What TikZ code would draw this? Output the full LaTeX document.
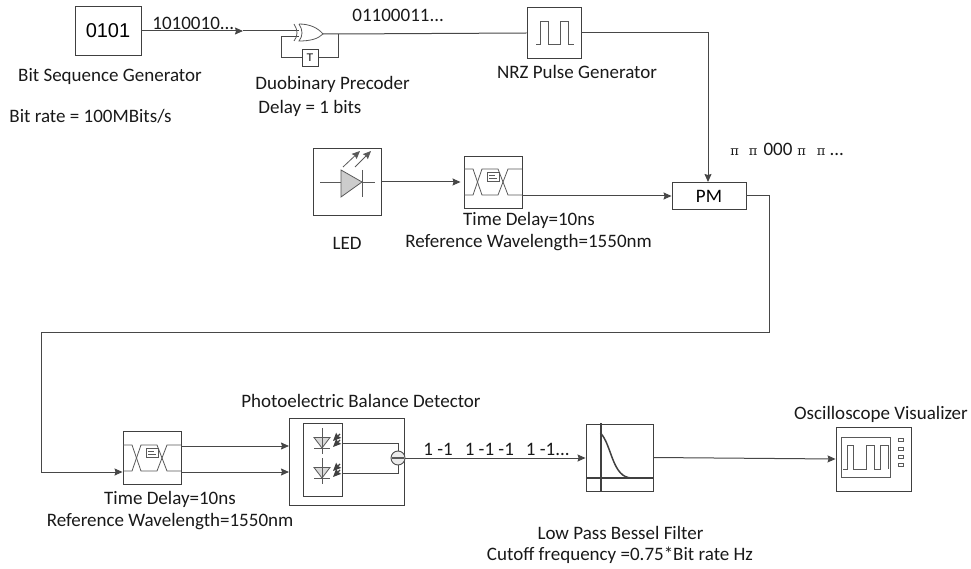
\documentclass[tikz,border=0pt]{standalone}
\usepackage{fontspec}
\setmainfont{Carlito}
\newfontfamily\boxfont{Liberation Sans}
\newfontfamily\pifont{DejaVu Serif}
\newcommand{\pisym}{{\pifont\fontsize{13}{15}\selectfont π}}
\usetikzlibrary{arrows.meta,positioning}
\tikzset{
  unit/.style={draw=black!75,minimum width=#1,inner sep=0pt},
  label/.style={inner sep=0pt,font=\fontsize{19}{22}\selectfont,text=black!90},
  wire/.style={draw=black!72,line width=1pt},
  icon/.style={draw=black!65,line width=0.8pt},
}
\begin{document}
\begin{tikzpicture}[x=1pt,y=-1pt,>={Stealth[length=8pt,width=7pt,inset=1pt]},line width=0.9pt]
\useasboundingbox (0,0) rectangle (971,569);

% top row
\node[unit=66pt,minimum height=49pt,font=\boxfont\fontsize{20}{22}\selectfont] (bitgen) at (108,31) {0101};
\node[unit=54pt,minimum height=51pt] (nrz) at (554,33) {};
\node[unit=16pt,minimum height=17pt,font=\boxfont\fontsize{11}{11}\selectfont] (tbox) at (310,57.5) {T};
\coordinate (inmid) at (243,31);
\coordinate (xorin) at (299,31);
\coordinate (xorfb) at (299,37);
\coordinate (xorout) at (323,34);
\coordinate (fbright) at (338,34);
\coordinate (fbleft) at (281,57.5);

% middle row
\node[unit=68pt,minimum height=67pt] (led) at (347,182) {};
\node[unit=58pt,minimum height=52pt] (delaya) at (493,182) {};
\node[unit=74pt,minimum height=27pt,font=\fontsize{19}{22}\selectfont] (pm) at (709,196) {PM};

% bottom row
\node[unit=58pt,minimum height=53pt] (delayb) at (152,458) {};
\node[unit=115pt,minimum height=87pt] (pbd) at (346.5,461.5) {};
\node[unit=39pt,minimum height=73pt] (pbdin) at (322.5,459.5) {};
\node[unit=67pt,minimum height=67pt] (lpf) at (619.5,457.5) {};
\node[unit=75pt,minimum height=64pt] (scope) at (873.5,459) {};

% connectors
\draw[wire,->] (bitgen.east) -- (inmid);
\draw[wire] (inmid) -- (xorin);
\draw[wire] (xorout) -- (fbright) -- (nrz.west);
\draw[wire] (fbright) |- (tbox.east);
\draw[wire] (tbox.west) -- (fbleft) |- (xorfb);
\draw[wire,->] (nrz.east) -- (708,33) -- (708,182);
\draw[wire,->,shorten >=3pt] (led.east) -- (delaya.west);
\draw[wire,->] (522,196) -- (pm.west);
\draw[wire,->] (pm.east) -- (769,196) -- (769,332) -- (41,332) -- (41,472) -- (delayb.west |- 0,472);
\draw[wire,->] (181,446) -- (289,446);
\draw[wire,->] (181,472) -- (289,472);
\draw[wire,->] (405,458) -- (lpf.west |- 0,458);
\draw[wire,->] (lpf.east) -- (scope.west);

% xor gate
\draw[icon] (294,24) .. controls (298,30) and (298,36) .. (294,41);
\draw[icon] (299,24) .. controls (303,30) and (303,36) .. (299,41)
  .. controls (310,41) and (318,39) .. (323,34) .. controls (318,28) and (310,24) .. (299,24);

% pulse icon
\draw[icon] (536,44) -- (540,44) -- (540,21) -- (548,21) -- (548,44) -- (560,44) -- (560,21) -- (568,21) -- (568,44) -- (574,44);

% led icon
\draw[icon,fill=black!20] (341,170) -- (362,182) -- (341,197) -- cycle;
\draw[icon] (320,182) -- (341,182) (362,170) -- (362,197) (362,182) -- (375,182);
\draw[icon,->] (343,167) -- (360,151);
\draw[icon,->] (355,167) -- (371,151);

% delay icons
\foreach \cx/\cy in {493/182,152/458}{
  \begin{scope}[shift={(\cx,\cy)}]
    \draw[icon] (-29,-13) -- (-20,-13) -- (-11,13) -- (5,13) -- (15,-13) -- (29,-13);
    \draw[icon] (-29,13) -- (-20,13) -- (-11,-13) -- (5,-13) -- (15,13) -- (29,13);
    \draw[icon,fill=white] (-6,-10) rectangle (6,-1);
    \draw[icon,line width=0.6pt] (-4,-7) -- (2,-7) (-4,-4) -- (4,-4);
  \end{scope}
}

% photodiodes
\foreach \cy in {443,473}{
  \begin{scope}[shift={(322,\cy)}]
    \draw[icon,fill=black!15] (-8,-5.5) -- (8,-5.5) -- (0,5) -- cycle;
    \draw[icon] (0,-15) -- (0,11) (-8,5) -- (8,5);
    \draw[black!75,line width=1.2pt,->] (18,-9) -- (11,-2);
    \draw[black!75,line width=1.2pt,->] (18,-3) -- (11,4);
  \end{scope}
}
\node[draw=black!70,fill=black!8,circle,minimum size=14pt,inner sep=0pt] (minus) at (398,458) {};
\draw[icon,line width=1.1pt] (392,458) -- (404,458);
\draw[wire] (342,443) -- (398,443) -- (minus.north);
\draw[wire] (342,473) -- (398,473) -- (minus.south);

% filter icon
\draw[black!75,line width=2pt] (600.5,423) -- (600.5,492) (586,478) -- (654,478);
\draw[black!75,line width=1.5pt] (600.5,433) .. controls (612,445) and (612,478) .. (632,478);

% scope icon
\draw[icon] (841,437) rectangle (890,477);
\draw[icon] (843,469) -- (847,469) -- (847,445) -- (853,445) -- (853,469) -- (866,469) -- (866,445) -- (874,445) -- (874,469) -- (880,469) -- (880,445) -- (888,445) -- (888,469);
\foreach \ky in {438,447,455,463}{
  \draw[icon,line width=0.6pt] (898,\ky) rectangle (903,\ky+3);
}

% texts
\node[label] (bitgenlabel) at (110,76) {Bit Sequence Generator};
\node[label,anchor=west] (ratelabel) at (9,116) {Bit rate = 100MBits/s};
\node[label,anchor=west] (inbits) at (152,23) {1010010...};
\node[label,anchor=west] (prebits) at (352,15) {01100011...};
\node[label,anchor=west] (prelabel) at (255,84) {Duobinary Precoder};
\node[label,anchor=west] (delaylabel) at (258,108) {Delay = 1 bits};
\node[label] (nrzlabel) at (577,72) {NRZ Pulse Generator};
\node[label,anchor=west] (phasebits) at (730,149) {\pisym\hspace{10pt}\pisym\hspace{6pt}000\hspace{5pt}\pisym\hspace{11pt}\pisym\hspace{4pt}...};
\node[label] (ledlabel) at (347,243) {LED};
\node[label] (delayatime) at (529,220) {Time Delay=10ns};
\node[label] (delayaref) at (528.5,243) {Reference Wavelength=1550nm};
\node[label] (pbdlabel) at (361,401) {Photoelectric Balance Detector};
\node[label,anchor=west] (outbits) at (423,449) {1 -1\hspace{12pt}1 -1 -1\hspace{12pt}1 -1...};
\node[label] (scopelabel) at (881,414) {Oscilloscope Visualizer};
\node[label] (delaybtime) at (170,499) {Time Delay=10ns};
\node[label] (delaybref) at (170,522) {Reference Wavelength=1550nm};
\node[label] (lpflabel) at (620.5,533) {Low Pass Bessel Filter};
\node[label] (cutlabel) at (620,555) {Cutoff frequency =0.75*Bit rate Hz};
\end{tikzpicture}
\end{document}
